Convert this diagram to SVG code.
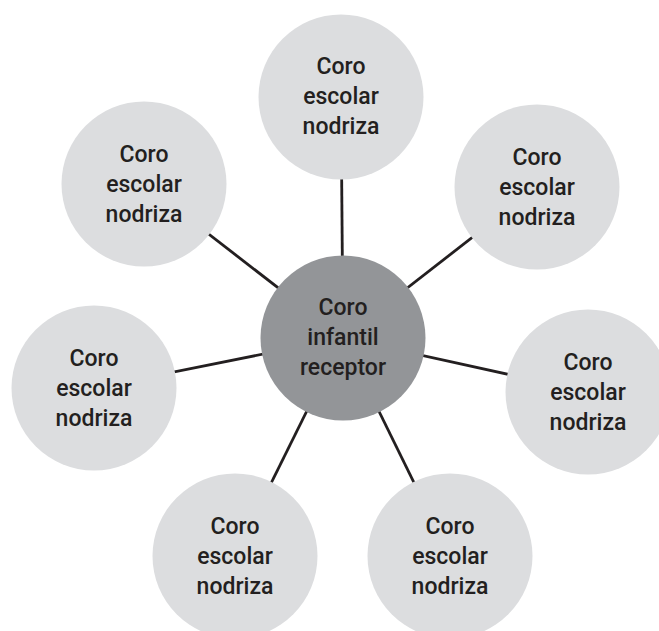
<svg xmlns="http://www.w3.org/2000/svg" width="659" height="631" viewBox="0 0 659 631">
<style>
.bg{fill:#ffffff}
.outer{fill:#dcdddf}
.inner{fill:#939598}
.conn{stroke:#231f20;stroke-width:2.8;fill:none}
.lbl{font-family:Roboto,"Liberation Sans",sans-serif;font-weight:500;font-size:23px;fill:#231f20;text-anchor:middle}
</style>
<rect class="bg" x="0" y="0" width="659" height="631"/>
<g id="connectors">
<line class="conn" x1="343" y1="338" x2="341" y2="97"/>
<line class="conn" x1="343" y1="338" x2="537" y2="187"/>
<line class="conn" x1="343" y1="338" x2="588" y2="392"/>
<line class="conn" x1="343" y1="338" x2="450" y2="556"/>
<line class="conn" x1="343" y1="338" x2="235" y2="556"/>
<line class="conn" x1="343" y1="338" x2="94" y2="388"/>
<line class="conn" x1="343" y1="338" x2="144" y2="184"/>
</g>
<g id="node-top">
<circle class="outer" cx="341" cy="97" r="82.5"/>
<text class="lbl" x="341" y="74">Coro</text><text class="lbl" x="341" y="104">escolar</text><text class="lbl" x="341" y="134">nodriza</text>
</g>
<g id="node-top-right">
<circle class="outer" cx="537" cy="187" r="82.5"/>
<text class="lbl" x="537" y="165">Coro</text><text class="lbl" x="537" y="195">escolar</text><text class="lbl" x="537" y="225">nodriza</text>
</g>
<g id="node-right">
<circle class="outer" cx="588" cy="392" r="82.5"/>
<text class="lbl" x="588" y="370">Coro</text><text class="lbl" x="588" y="400">escolar</text><text class="lbl" x="588" y="430">nodriza</text>
</g>
<g id="node-bottom-right">
<circle class="outer" cx="450" cy="556" r="82.5"/>
<text class="lbl" x="450" y="534">Coro</text><text class="lbl" x="450" y="564">escolar</text><text class="lbl" x="450" y="594">nodriza</text>
</g>
<g id="node-bottom-left">
<circle class="outer" cx="235" cy="556" r="82.5"/>
<text class="lbl" x="235" y="534">Coro</text><text class="lbl" x="235" y="564">escolar</text><text class="lbl" x="235" y="594">nodriza</text>
</g>
<g id="node-left">
<circle class="outer" cx="94" cy="388" r="82.5"/>
<text class="lbl" x="94" y="366">Coro</text><text class="lbl" x="94" y="396">escolar</text><text class="lbl" x="94" y="426">nodriza</text>
</g>
<g id="node-top-left">
<circle class="outer" cx="144" cy="184" r="82.5"/>
<text class="lbl" x="144" y="162">Coro</text><text class="lbl" x="144" y="192">escolar</text><text class="lbl" x="144" y="222">nodriza</text>
</g>
<g id="node-center">
<circle class="inner" cx="343" cy="338" r="82.5"/>
<text class="lbl" x="343" y="315">Coro</text><text class="lbl" x="343" y="345">infantil</text><text class="lbl" x="343" y="375">receptor</text>
</g>
</svg>
